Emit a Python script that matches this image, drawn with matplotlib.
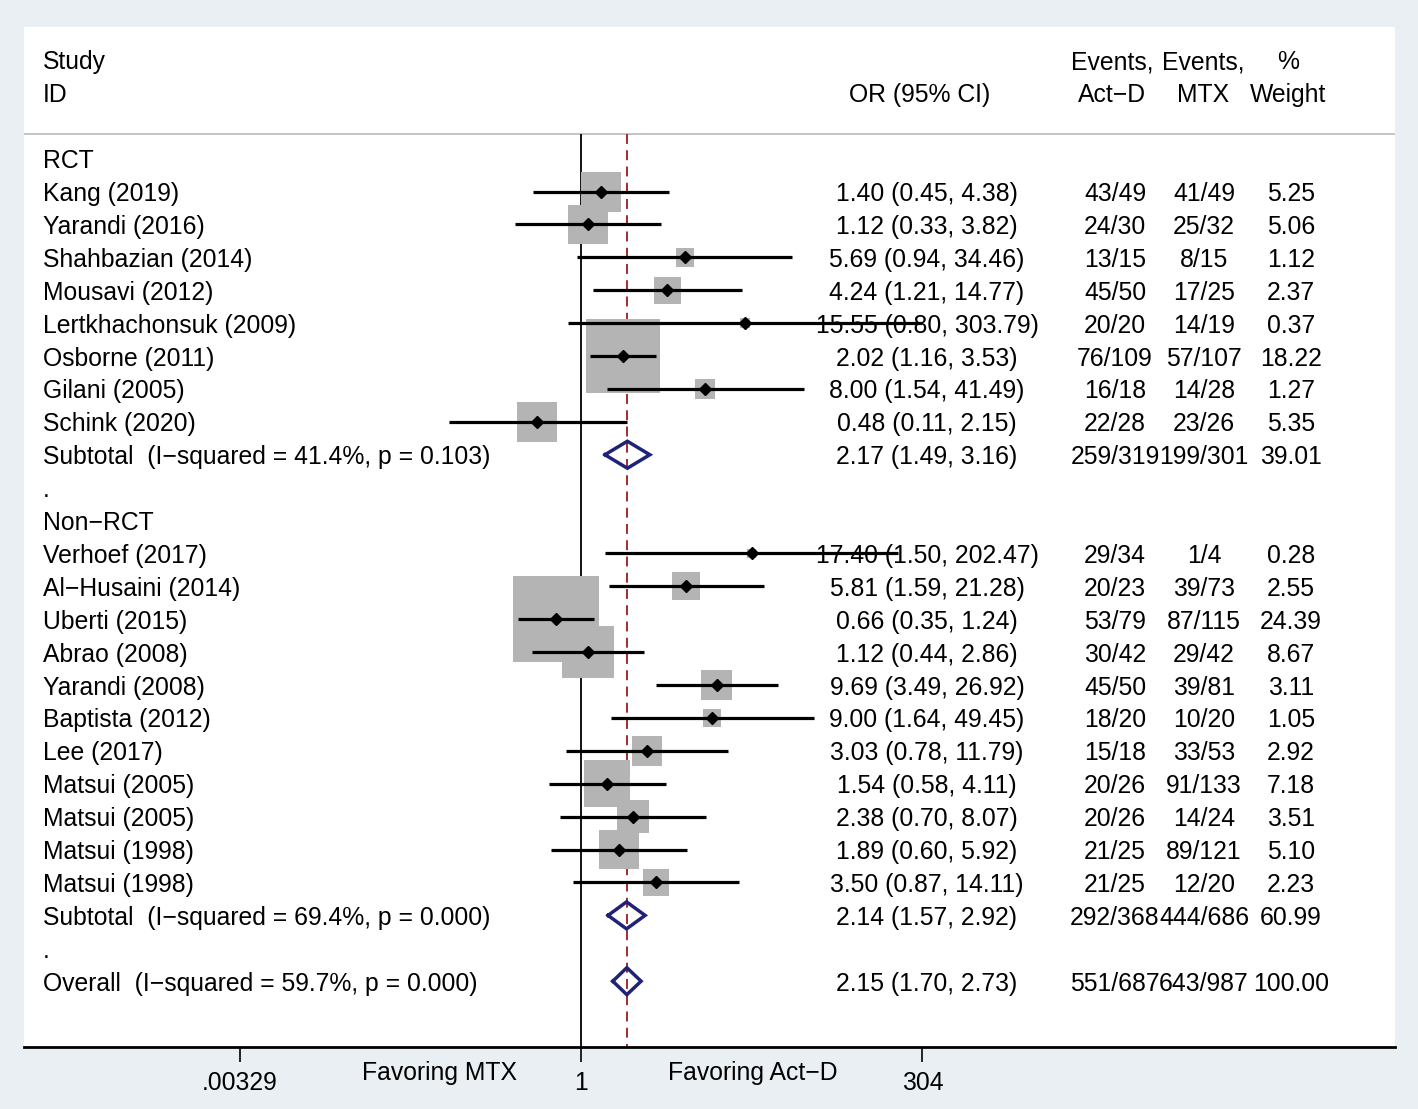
#!/usr/bin/env python3
"""Forest plot — Act-D vs MTX, OR (95% CI)"""
import matplotlib.pyplot as plt
import matplotlib.transforms as mtransforms
import numpy as np

BG, NAVY, MAROON, BOX = '#e9eff3', '#1f2277', '#9b1c20', '#b4b4b4'
plt.rcParams['font.family'] = ['Liberation Sans', 'DejaVu Sans']
FS = 17.8
VA = 'center_baseline'

# individual studies
STUDY = ['Kang (2019)', 'Yarandi (2016)', 'Shahbazian (2014)', 'Mousavi (2012)',
         'Lertkhachonsuk (2009)', 'Osborne (2011)', 'Gilani (2005)', 'Schink (2020)',
         'Verhoef (2017)', 'Al\u2212Husaini (2014)', 'Uberti (2015)', 'Abrao (2008)',
         'Yarandi (2008)', 'Baptista (2012)', 'Lee (2017)', 'Matsui (2005)',
         'Matsui (2005)', 'Matsui (1998)', 'Matsui (1998)']
GROUP = [0] * 8 + [1] * 11
OR = [1.40, 1.12, 5.69, 4.24, 15.55, 2.02, 8.00, 0.48,
      17.40, 5.81, 0.66, 1.12, 9.69, 9.00, 3.03, 1.54, 2.38, 1.89, 3.50]
LO = [0.45, 0.33, 0.94, 1.21, 0.80, 1.16, 1.54, 0.11,
      1.50, 1.59, 0.35, 0.44, 3.49, 1.64, 0.78, 0.58, 0.70, 0.60, 0.87]
HI = [4.38, 3.82, 34.46, 14.77, 303.79, 3.53, 41.49, 2.15,
      202.47, 21.28, 1.24, 2.86, 26.92, 49.45, 11.79, 4.11, 8.07, 5.92, 14.11]
EV_ACTD = ['43/49', '24/30', '13/15', '45/50', '20/20', '76/109', '16/18', '22/28',
           '29/34', '20/23', '53/79', '30/42', '45/50', '18/20', '15/18', '20/26',
           '20/26', '21/25', '21/25']
EV_MTX = ['41/49', '25/32', '8/15', '17/25', '14/19', '57/107', '14/28', '23/26',
          '1/4', '39/73', '87/115', '29/42', '39/81', '10/20', '33/53', '91/133',
          '14/24', '89/121', '12/20']
WEIGHT = [5.25, 5.06, 1.12, 2.37, 0.37, 18.22, 1.27, 5.35,
          0.28, 2.55, 24.39, 8.67, 3.11, 1.05, 2.92, 7.18, 3.51, 5.10, 2.23]

# groups + pooled estimates (last = overall)
GROUP_NAME = ['RCT', 'Non\u2212RCT']
POOL_LABEL = ['Subtotal  (I\u2212squared = 41.4%, p = 0.103)',
              'Subtotal  (I\u2212squared = 69.4%, p = 0.000)',
              'Overall  (I\u2212squared = 59.7%, p = 0.000)']
POOL_OR = [2.17, 2.14, 2.15]
POOL_LO = [1.49, 1.57, 1.70]
POOL_HI = [3.16, 2.92, 2.73]
POOL_ACTD = ['259/319', '292/368', '551/687']
POOL_MTX = ['199/301', '444/686', '643/987']
POOL_W = [39.01, 60.99, 100.00]

TICKS = [0.00329, 1, 304]
TICK_LABELS = ['.00329', '1', '304']

# column centres (axes fraction)
X_NAME, X_OR, X_ACTD, X_MTX, X_W = 0.0139, 0.6586, 0.7958, 0.8607, 0.9241


def build_rows():
    y = 0
    study_y, pool_y, label_rows = [], [], []
    for g, name in enumerate(GROUP_NAME):
        label_rows.append((y, name))
        y += 1
        for i in range(len(STUDY)):
            if GROUP[i] == g:
                study_y.append(y)
                y += 1
        pool_y.append(y)
        y += 1
        label_rows.append((y, '.'))
        y += 1
    pool_y.append(y)
    return study_y, pool_y, label_rows


def row_text(ax, tr, y, cells):
    for x, s, ha in cells:
        ax.text(x, y, s, transform=tr, fontsize=FS, va=VA, ha=ha)


def main():
    fig = plt.figure(figsize=(14.18, 11.09), dpi=100, facecolor=BG)
    ax = fig.add_axes([24 / 1418, 62 / 1109, 1371 / 1418, 1020 / 1109])
    ax.set_facecolor('white')
    ax.set_xscale('log')
    ax.set_xlim(np.exp(-9.33), np.exp(13.63))
    ax.set_ylim(27.0, -4.0)

    study_y, pool_y, label_rows = build_rows()
    tr = mtransforms.blended_transform_factory(ax.transAxes, ax.transData)
    sep = -0.76

    # header
    row_text(ax, tr, -3, [(X_NAME, 'Study', 'left'), (0.7936, 'Events,', 'center'),
                          (0.8600, 'Events,', 'center'), (0.9219, '%', 'center')])
    row_text(ax, tr, -2, [(X_NAME, 'ID', 'left'), (0.6535, 'OR (95% CI)', 'center'),
                          (0.7936, 'Act\u2212D', 'center'), (0.8600, 'MTX', 'center'),
                          (0.9219, 'Weight', 'center')])
    ax.axhline(sep, color='#c4c4c4', lw=1.4, zorder=1)

    # reference lines
    ax.vlines(1, sep, 27.0, color='black', lw=1.3, zorder=1)
    ax.vlines(POOL_OR[-1], sep, 27.0, color=MAROON, lw=1.3, zorder=1,
              linestyles=(0, (5.5, 3.5)))

    for y, name in label_rows:
        row_text(ax, tr, y, [(X_NAME, name, 'left')])

    # studies
    ax.scatter(OR, study_y, s=[158 * w for w in WEIGHT], marker='s',
               color=BOX, lw=0, zorder=2)
    ax.hlines(study_y, LO, HI, color='black', lw=2.3, zorder=5)
    ax.plot(OR, study_y, 'D', color='black', ms=6.5, zorder=6)
    for i, y in enumerate(study_y):
        row_text(ax, tr, y, [
            (X_NAME, STUDY[i], 'left'),
            (X_OR, f'{OR[i]:.2f} ({LO[i]:.2f}, {HI[i]:.2f})', 'center'),
            (X_ACTD, EV_ACTD[i], 'center'),
            (X_MTX, EV_MTX[i], 'center'),
            (X_W, f'{WEIGHT[i]:.2f}', 'center')])

    # pooled diamonds
    for k, y in enumerate(pool_y):
        xs = [POOL_LO[k], POOL_OR[k], POOL_HI[k], POOL_OR[k], POOL_LO[k]]
        ys = [y, y - 0.41, y, y + 0.41, y]
        ax.plot(xs, ys, color=NAVY, lw=2.5, zorder=6, solid_joinstyle='miter')
        row_text(ax, tr, y, [
            (X_NAME, POOL_LABEL[k], 'left'),
            (X_OR, f'{POOL_OR[k]:.2f} ({POOL_LO[k]:.2f}, {POOL_HI[k]:.2f})', 'center'),
            (X_ACTD, POOL_ACTD[k], 'center'),
            (X_MTX, POOL_MTX[k], 'center'),
            (X_W, f'{POOL_W[k]:.2f}', 'center')])

    # axis
    for side in ['top', 'left', 'right']:
        ax.spines[side].set_visible(False)
    ax.spines['bottom'].set_linewidth(2.0)
    ax.set_yticks([])
    ax.set_xticks(TICKS)
    ax.set_xticklabels(TICK_LABELS, fontsize=FS)
    ax.minorticks_off()
    ax.tick_params(axis='x', direction='out', length=11, width=1.2, pad=6)
    ax.text(0.303, -0.0255, 'Favoring MTX', transform=ax.transAxes, fontsize=FS,
            ha='center', va='center')
    ax.text(0.5316, -0.0255, 'Favoring Act\u2212D', transform=ax.transAxes, fontsize=FS,
            ha='center', va='center')

    fig.savefig('out.png', dpi=100, facecolor=BG)


if __name__ == '__main__':
    main()
